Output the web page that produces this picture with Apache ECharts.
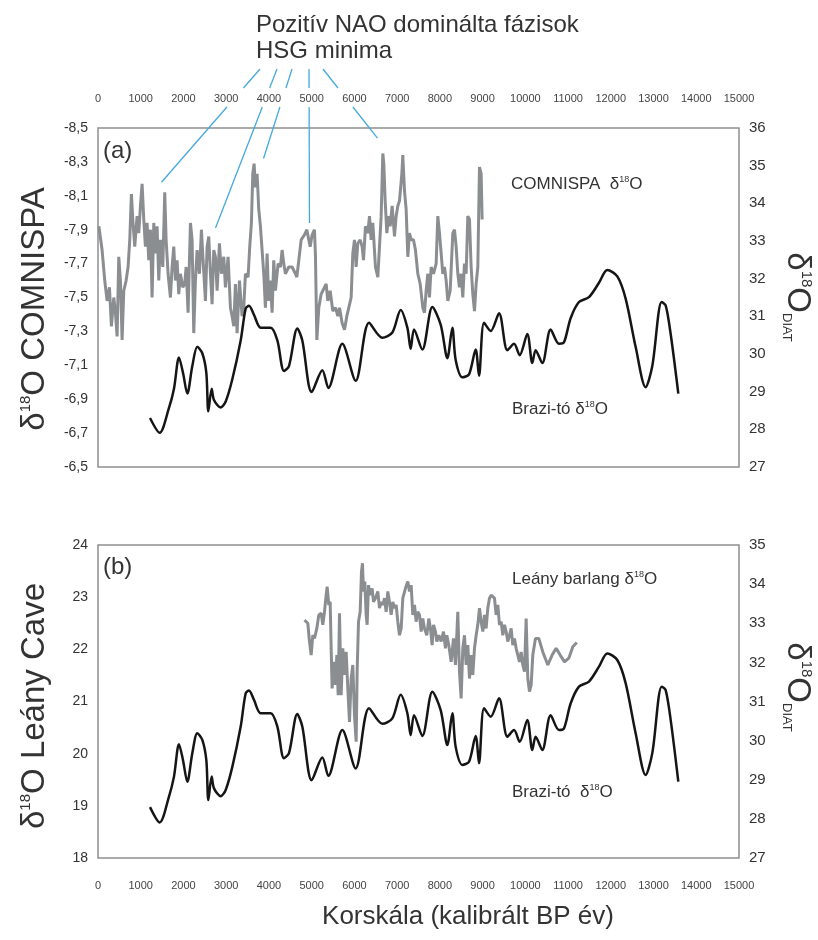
<!DOCTYPE html>
<html>
<head>
<meta charset="utf-8">
<script src="https://cdn.jsdelivr.net/npm/echarts@6/dist/echarts.min.js"></script>
<style>
html, body { margin: 0; padding: 0; background: #fff; }
#chart { width: 818px; height: 940px; }
</style>
</head>
<body>
<div id="chart"></div>
<script>
// COMNISPA δ18O (év BP, ‰) - (a) bal tengely
const comnispa = [
  [20,-7.92],[96,-7.78],[158,-7.60],[213,-7.48],[268,-7.56],[314,-7.33],[369,-7.50],[408,-7.41],[447,-7.27],[486,-7.74],
  [525,-7.60],[564,-7.25],[603,-7.54],[658,-7.60],[704,-7.68],[743,-7.84],[782,-8.11],[814,-7.96],[860,-7.80],[915,-7.98],
  [954,-7.88],[993,-8.04],[1032,-8.17],[1071,-7.96],[1110,-7.80],[1149,-7.94],[1188,-7.72],[1227,-7.90],[1266,-7.50],[1305,-7.94],
  [1344,-7.76],[1383,-7.92],[1422,-7.60],[1461,-7.84],[1516,-7.68],[1562,-8.12],[1594,-7.84],[1640,-7.64],[1695,-7.50],[1734,-7.68],
  [1773,-7.80],[1812,-7.60],[1851,-7.72],[1890,-7.52],[1929,-7.64],[1984,-7.56],[2030,-7.58],[2062,-7.68],[2108,-7.41],[2163,-7.94],
  [2202,-7.84],[2241,-7.29],[2280,-7.60],[2319,-7.78],[2374,-7.64],[2420,-7.90],[2459,-7.72],[2514,-7.48],[2553,-7.80],[2592,-7.86],
  [2631,-7.64],[2670,-7.46],[2709,-7.78],[2748,-7.74],[2787,-7.54],[2842,-7.82],[2888,-7.64],[2943,-7.74],[2982,-7.56],[3044,-7.74],
  [3099,-7.44],[3138,-7.39],[3177,-7.33],[3216,-7.58],[3255,-7.29],[3310,-7.60],[3372,-7.39],[3411,-7.44],[3450,-7.64],[3512,-7.62],
  [3551,-7.80],[3590,-7.94],[3622,-8.23],[3653,-8.29],[3684,-8.15],[3723,-8.23],[3762,-8.02],[3801,-7.92],[3840,-7.78],[3879,-7.64],
  [3918,-7.44],[3957,-7.76],[3996,-7.48],[4035,-7.60],[4074,-7.41],[4113,-7.72],[4152,-7.54],[4214,-7.70],[4269,-7.68],[4308,-7.78],
  [4347,-7.70],[4386,-7.64],[4464,-7.68],[4542,-7.68],[4620,-7.64],[4653,-7.62],[4699,-7.72],[4754,-7.84],[4832,-7.87],[4887,-7.90],
  [4933,-7.84],[4965,-7.80],[5011,-7.87],[5066,-7.90],[5089,-7.74],[5121,-7.25],[5167,-7.44],[5222,-7.52],[5261,-7.54],[5339,-7.58],
  [5378,-7.48],[5433,-7.54],[5495,-7.42],[5557,-7.44],[5612,-7.39],[5651,-7.44],[5713,-7.35],[5768,-7.31],[5823,-7.39],[5869,-7.39],
  [5924,-7.50],[5963,-7.76],[6002,-7.84],[6041,-7.68],[6080,-7.82],[6135,-7.84],[6181,-7.80],[6213,-7.72],[6259,-7.92],[6314,-7.88],
  [6353,-7.98],[6392,-7.84],[6431,-7.94],[6493,-7.68],[6548,-7.62],[6587,-7.80],[6626,-7.98],[6665,-8.35],[6688,-8.29],[6720,-8.07],
  [6759,-7.88],[6798,-7.98],[6837,-7.92],[6883,-8.04],[6938,-7.86],[6977,-7.98],[7016,-8.04],[7055,-8.07],[7110,-8.23],[7133,-8.34],
  [7172,-8.13],[7211,-8.02],[7250,-7.74],[7289,-7.88],[7328,-7.84],[7383,-7.84],[7429,-7.78],[7484,-7.64],[7539,-7.58],[7601,-7.44],
  [7640,-7.41],[7679,-7.54],[7718,-7.64],[7757,-7.50],[7796,-7.68],[7851,-7.64],[7913,-7.70],[7952,-7.98],[7991,-7.88],[8030,-7.76],
  [8069,-7.64],[8108,-7.68],[8147,-7.60],[8186,-7.48],[8241,-7.54],[8303,-7.88],[8342,-7.90],[8381,-7.80],[8420,-7.64],[8459,-7.56],
  [8498,-7.64],[8537,-7.50],[8576,-7.70],[8615,-7.64],[8654,-7.98],[8693,-7.96],[8732,-7.68],[8771,-7.52],[8810,-7.42],[8849,-7.58],
  [8888,-7.68],[8927,-8.27],[8966,-8.23],[8989,-7.96]
];

// Leány barlang δ18O - (b) bal tengely
const leany = [
  [4832,22.56],[4910,22.50],[4949,22.15],[4988,21.89],[5027,22.27],[5066,22.21],[5121,22.40],[5167,22.66],[5222,22.69],[5261,22.47],
  [5300,22.72],[5339,23.04],[5362,23.20],[5401,22.85],[5433,22.91],[5456,22.02],[5479,21.25],[5518,21.76],[5557,21.32],[5589,21.89],
  [5620,21.12],[5651,22.69],[5690,21.12],[5729,22.02],[5768,21.51],[5807,21.95],[5846,21.25],[5885,20.61],[5924,21.44],[5963,21.70],
  [6002,20.74],[6041,20.23],[6064,21.57],[6096,22.53],[6135,22.72],[6166,23.49],[6189,23.65],[6213,23.11],[6244,23.30],[6275,22.66],
  [6298,22.47],[6330,23.23],[6369,23.04],[6415,23.17],[6447,22.91],[6493,22.98],[6548,23.11],[6587,22.79],[6626,22.91],[6665,22.85],
  [6704,22.98],[6743,22.72],[6782,23.11],[6821,22.91],[6860,22.66],[6899,22.91],[6938,22.79],[6977,22.85],[7016,22.53],[7055,22.27],
  [7094,22.40],[7133,22.98],[7195,23.17],[7250,23.30],[7289,23.11],[7328,23.23],[7367,22.66],[7406,22.85],[7445,22.53],[7484,22.72],
  [7523,22.66],[7562,22.34],[7601,22.59],[7640,22.40],[7695,22.27],[7741,22.59],[7780,22.40],[7819,22.08],[7851,22.47],[7897,22.34],
  [7929,22.15],[7975,22.27],[8030,22.15],[8085,22.34],[8131,22.02],[8163,22.27],[8209,22.08],[8264,21.76],[8319,22.21],[8365,21.70],
  [8420,22.72],[8459,21.57],[8498,21.06],[8537,22.02],[8576,22.27],[8615,21.70],[8654,22.08],[8693,21.44],[8732,21.89],[8771,21.51],
  [8810,22.02],[8849,22.27],[8888,22.47],[8927,22.79],[8966,22.53],[9005,22.34],[9044,22.66],[9083,22.40],[9122,22.79],[9161,22.98],
  [9200,23.04],[9239,23.07],[9278,22.98],[9317,22.66],[9356,22.85],[9395,22.47],[9434,22.53],[9473,22.27],[9512,22.47],[9551,22.34],
  [9590,22.15],[9629,22.27],[9668,22.40],[9707,22.08],[9746,22.21],[9785,22.02],[9824,21.89],[9863,21.76],[9902,21.95],[9941,21.70],
  [9980,21.57],[10019,22.59],[10058,21.44],[10097,21.19],[10136,21.32],[10175,21.89],[10237,22.21],[10315,22.21],[10409,21.95],
  [10526,21.70],[10627,21.89],[10721,22.02],[10815,21.89],[10916,21.76],[11017,21.83],[11111,22.05],[11205,22.13]
];

// Brazi-tó δ18O (diatóma) - jobb tengelyek
const brazi = [
  [1217,28.30],[1443,27.91],[1661,28.57],[1778,29.08],[1895,29.91],[1989,29.50],[2090,28.95],[2207,29.68],[2324,30.19],[2441,30.02],
  [2535,29.50],[2582,28.48],[2660,29.08],[2714,28.78],[2871,28.58],[2988,28.74],[3143,29.33],[3339,30.36],[3456,31.21],[3533,31.28],
  [3650,31.04],[3807,30.70],[4041,30.70],[4197,30.36],[4352,29.55],[4469,29.68],[4664,30.68],[4781,30.36],[5000,28.99],[5250,29.57],
  [5390,29.10],[5718,30.27],[6030,29.29],[6342,30.83],[6654,30.43],[6888,30.57],[7083,31.17],[7239,30.70],[7317,30.14],[7395,30.65],
  [7590,30.12],[7824,31.25],[8019,30.78],[8175,29.89],[8292,30.70],[8370,29.84],[8526,29.38],[8682,29.46],[8838,30.12],[8916,29.42],
  [9033,30.83],[9190,30.61],[9385,31.08],[9580,30.10],[9736,30.27],[9868,29.97],[10046,30.53],[10163,29.76],[10241,30.10],[10397,29.76],
  [10592,30.65],[10787,30.27],[10904,30.31],[11060,30.95],[11255,31.38],[11489,31.51],[11723,31.89],[11918,32.23],[12152,32.06],
  [12347,31.47],[12581,30.19],[12815,29.12],[12971,29.68],[13190,31.38],[13284,31.29],[13401,30.53],[13580,28.95]
];

// HSG minimumok (a felső panel csúcsai)
const hsgYears = [1486, 2750, 3873, 4949, 6540];
const hsgVals = [-8.18, -7.91, -8.32, -7.94, -8.44];

const chart = echarts.init(document.getElementById('chart'));
const txt = '#333';
const grey = '#8b8e91';
const font = 'Liberation Sans, Arial, sans-serif';

const xAx = (grid, pos, margin) => ({
  gridIndex: grid, type: 'value', position: pos, min: 0, max: 15000, interval: 1000,
  axisLine: { show: false }, axisTick: { show: false }, splitLine: { show: false },
  axisLabel: { margin: margin, fontSize: 11, color: '#444', fontFamily: font, formatter: v => String(v) }
});
const yAx = (grid, pos, min, max, step, fs, extra) => Object.assign({
  gridIndex: grid, type: 'value', position: pos, min: min, max: max, interval: step,
  axisLine: { show: false }, axisTick: { show: false }, splitLine: { show: false },
  axisLabel: { margin: 10, fontSize: fs, color: txt, fontFamily: font }
}, extra || {});

const option = {
  animation: false,
  backgroundColor: '#fff',
  grid: [
    { left: 98, top: 128, width: 641, height: 339, show: true, borderColor: '#8f8f8f', borderWidth: 1.5, outerBoundsMode: 'none' },
    { left: 98, top: 545, width: 641, height: 313, show: true, borderColor: '#8f8f8f', borderWidth: 1.5, outerBoundsMode: 'none' }
  ],
  xAxis: [xAx(0, 'top', 24), xAx(1, 'bottom', 22)],
  yAxis: [
    yAx(0, 'left', -8.5, -6.5, 0.2, 14, {
      inverse: true,
      axisLabel: { margin: 10, fontSize: 14, color: txt, fontFamily: font,
        formatter: v => v.toFixed(1).replace('.', ',') }
    }),
    yAx(0, 'right', 27, 36, 1, 15),
    yAx(1, 'left', 18, 24, 1, 14),
    yAx(1, 'right', 27, 35, 1, 15)
  ],
  series: [
    { name: 'COMNISPA', type: 'line', xAxisIndex: 0, yAxisIndex: 0, data: comnispa, showSymbol: false, symbol: 'none',
      lineStyle: { color: grey, width: 3 } },
    { name: 'Brazi (a)', type: 'line', xAxisIndex: 0, yAxisIndex: 1, data: brazi, showSymbol: false, symbol: 'none', smooth: 0.3,
      lineStyle: { color: '#151515', width: 2.5 } },
    { name: 'Leány', type: 'line', xAxisIndex: 1, yAxisIndex: 2, data: leany, showSymbol: false, symbol: 'none',
      lineStyle: { color: grey, width: 3 } },
    { name: 'Brazi (b)', type: 'line', xAxisIndex: 1, yAxisIndex: 3, data: brazi, showSymbol: false, symbol: 'none', smooth: 0.3,
      lineStyle: { color: '#151515', width: 2.5 } }
  ]
};
chart.setOption(option);

// feliratok
const label = (x, y, text, size, rich, rot) => ({
  type: 'text', x: x, y: y, rotation: rot || 0, z: 10,
  style: { text: text, fontSize: size, fill: txt, fontFamily: font,
    align: rot ? 'center' : 'left', verticalAlign: 'middle', rich: rich }
});
const smallRich = fs => ({
  t: { fontSize: fs, fill: txt, fontFamily: font },
  s: { fontSize: Math.round(fs * 0.55), fill: txt, fontFamily: font, verticalAlign: 'top' }
});
const bigRich = {
  t: { fontSize: 33, fill: txt, fontFamily: font },
  s: { fontSize: 15, fill: txt, fontFamily: font, verticalAlign: 'top' },
  d: { fontSize: 13, fill: txt, fontFamily: font, verticalAlign: 'bottom' }
};

const graphic = [
  label(256, 25, 'Pozitív NAO dominálta fázisok', 24),
  label(256, 51, 'HSG minima', 24),
  label(103, 151, '(a)', 24),
  label(103, 567, '(b)', 24),
  label(511, 184, '{t|COMNISPA  δ}{s|18}{t|O}', 17, smallRich(17)),
  label(512, 409, '{t|Brazi-tó δ}{s|18}{t|O}', 17, smallRich(17)),
  label(512, 579, '{t|Leány barlang δ}{s|18}{t|O}', 17, smallRich(17)),
  label(512, 792, '{t|Brazi-tó  δ}{s|18}{t|O}', 17, smallRich(17)),
  { type: 'text', x: 468, y: 917, style: { text: 'Korskála (kalibrált BP év)', fontSize: 26, fill: txt,
    fontFamily: font, align: 'center', verticalAlign: 'middle' } },
  label(35, 309, '{t|δ}{s|18}{t|O COMNISPA}', 33, bigRich, Math.PI / 2),
  label(35, 706, '{t|δ}{s|18}{t|O Leány Cave}', 33, bigRich, Math.PI / 2),
  label(797, 297, '{t|δ}{s|18}{t|O}{d|DIAT}', 33, bigRich, -Math.PI / 2),
  label(797, 687, '{t|δ}{s|18}{t|O}{d|DIAT}', 33, bigRich, -Math.PI / 2)
];

// kék vonalak a felirattól a csúcsokig, a tengelyfeliratoknál megszakítva
const topX = [260, 277, 292, 309, 323];
const yTop = 69, gap1 = 88, gap2 = 107;
hsgYears.forEach((yr, i) => {
  const p = chart.convertToPixel({ xAxisIndex: 0, yAxisIndex: 0 }, [yr, hsgVals[i]]);
  const at = y => topX[i] + (p[0] - topX[i]) * (y - yTop) / (p[1] - yTop);
  const ls = { stroke: '#45a9dd', lineWidth: 1.3 };
  graphic.push({ type: 'line', z: 5, shape: { x1: topX[i], y1: yTop, x2: at(gap1), y2: gap1 }, style: ls });
  graphic.push({ type: 'line', z: 5, shape: { x1: at(gap2), y1: gap2, x2: p[0], y2: p[1] }, style: ls });
});

chart.setOption({ graphic: graphic });
</script>
</body>
</html>
